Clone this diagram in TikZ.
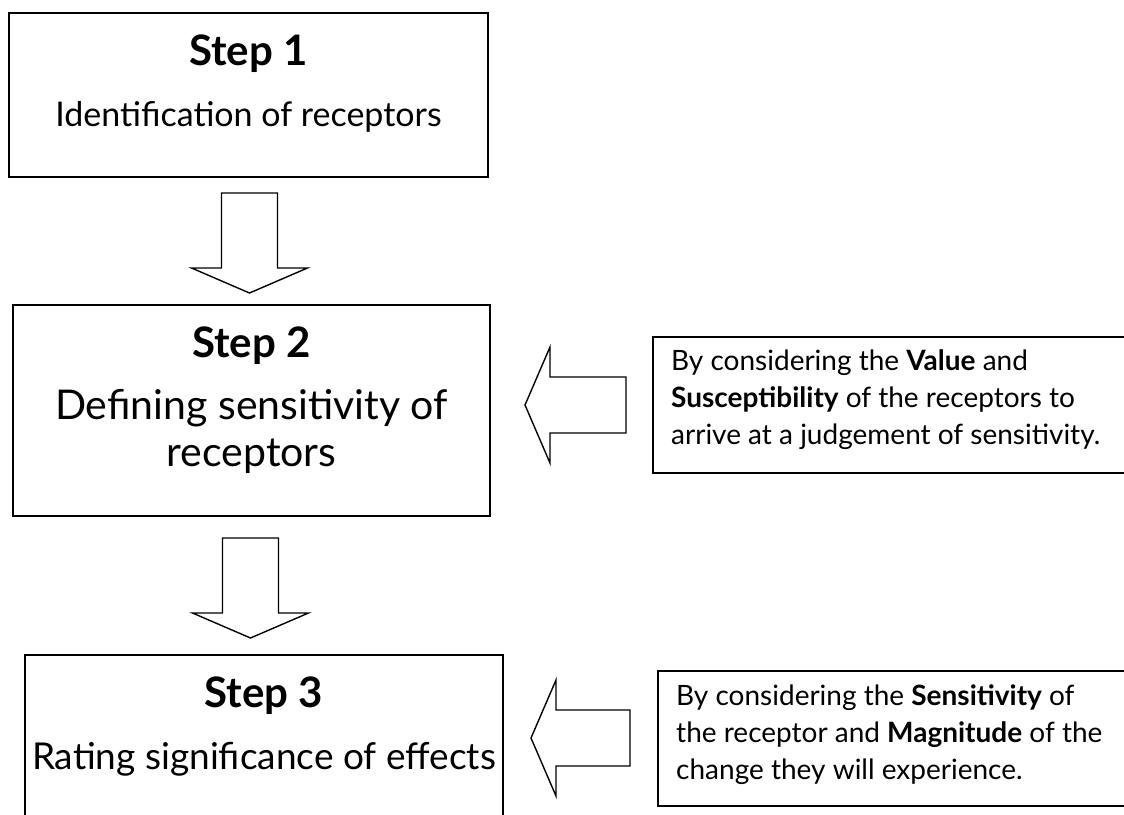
\documentclass[tikz,border=0pt]{standalone}
\usepackage{fontspec}
\setmainfont{Lato}

\tikzset{
  stepbox/.style={draw, line width=2.2pt, inner sep=0pt},
  notebox/.style={draw, line width=2pt, inner sep=0pt},
  steptitle/.style={font=\bfseries\fontsize{42}{44}\selectfont, inner sep=0pt},
  steptext/.style={font=\fontsize{34}{47}\selectfont, align=center, inner sep=0pt},
  notetext/.style={font=\fontsize{28}{37}\selectfont, align=left, inner sep=0pt},
  blockarrow/.style={draw, line width=1.4pt, fill=white, line join=miter},
}

% block arrow pointing down: centre x, top y, tip y
\newcommand{\downblock}[3]{%
  \draw[blockarrow] (#1-28,#2) -- (#1+28,#2) -- (#1+28,#3-25) -- (#1+58,#3-25)
    -- (#1,#3) -- (#1-58,#3-25) -- (#1-28,#3-25) -- cycle;}
% block arrow pointing left: tip x, centre y, right x
\newcommand{\leftblock}[3]{%
  \draw[blockarrow] (#3,#2-28) -- (#1+25,#2-28) -- (#1+25,#2-58) -- (#1,#2)
    -- (#1+25,#2+58) -- (#1+25,#2+28) -- (#3,#2+28) -- cycle;}

\begin{document}
\begin{tikzpicture}[x=1pt,y=-1pt]
\clip (0,0) rectangle (1124,814);

% the three steps
\node[stepbox, minimum width=479pt, minimum height=164pt] (box1) at (248.5,95) {};
\node[stepbox, minimum width=477pt, minimum height=211pt] (box2) at (251.5,410.5) {};
\node[stepbox, minimum width=478pt, minimum height=220pt] (box3) at (264,765) {};

\node[steptitle, anchor=base] (title1) at (248.5,65) {Step 1};
\node[steptext, anchor=base] (text1) at (248.5,126) {Identification of receptors};
\node[steptitle, anchor=base] (title2) at (251.5,357) {Step 2};
\node[steptext, anchor=north, font=\fontsize{41}{47}\selectfont] (text2) at (251.5,389)
  {Defining sensitivity of\\receptors};
\node[steptitle, anchor=base] (title3) at (264,707) {Step 3};
\node[steptext, anchor=base, font=\fontsize{37}{47}\selectfont] (text3) at (264,769)
  {Rating significance of effects};

% notes on the right
\node[notebox, minimum width=487pt, minimum height=136pt] (note2) at (896.5,405) {};
\node[notetext, anchor=north west] (notetext2) at (671,349)
  {By considering the \textbf{Value} and\\\textbf{Susceptibility} of the receptors to\\arrive at a judgement of sensitivity.};
\node[notebox, minimum width=482pt, minimum height=135pt] (note3) at (899,738.5) {};
\node[notetext, anchor=north west] (notetext3) at (676,684)
  {By considering the \textbf{Sensitivity} of\\the receptor and \textbf{Magnitude} of the\\change they will experience.};

% block arrows
\downblock{249.5}{193}{293}
\downblock{250.5}{538}{638}
\leftblock{525}{405}{626}
\leftblock{531}{738}{630}
\end{tikzpicture}
\end{document}
